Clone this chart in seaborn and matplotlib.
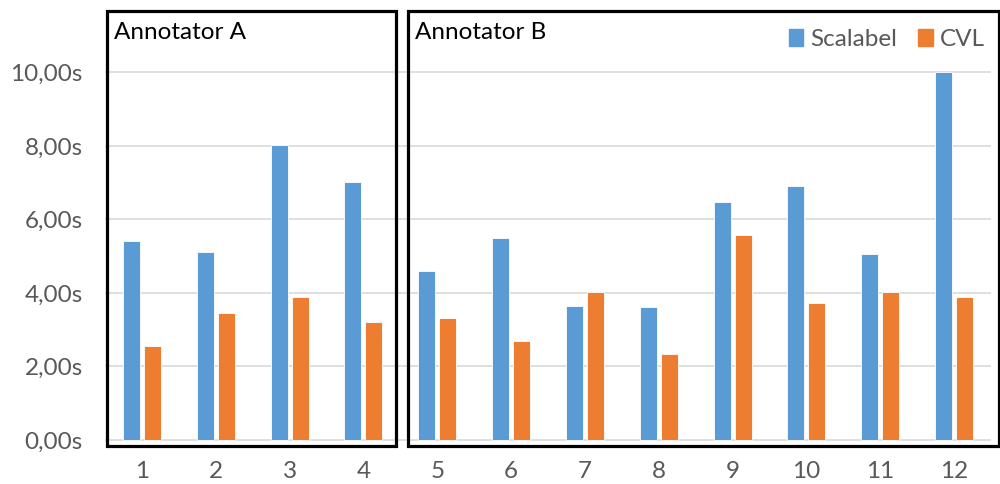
import numpy as np
import pandas as pd
import matplotlib
matplotlib.use("Agg")
import matplotlib.pyplot as plt
import matplotlib.transforms as mtransforms
from matplotlib.patches import Rectangle
import seaborn as sns

# data (seconds per task)
tasks = [str(i) for i in range(1, 13)]
scalabel = [5.40, 5.12, 8.02, 7.02, 4.60, 5.50, 3.65, 3.62, 6.47, 6.92, 5.05, 10.00]
cvl = [2.55, 3.45, 3.90, 3.22, 3.32, 2.70, 4.03, 2.34, 5.57, 3.73, 4.03, 3.90]
tools = ["Scalabel", "CVL"]
colors = ["#5B9BD5", "#ED7D31"]
y_ticks = [0, 2, 4, 6, 8, 10]

df = pd.DataFrame({
    "task": tasks * 2,
    "time": scalabel + cvl,
    "tool": [tools[0]] * len(tasks) + [tools[1]] * len(tasks),
})

sns.set_style("white")
plt.rcParams['font.family'] = ['Lato', 'DejaVu Sans']

fig = plt.figure(figsize=(10, 4.84), dpi=100)
ax = fig.add_axes([0.105, 0.0785, 0.886, 0.8988])

sns.barplot(data=df, x="task", y="time", hue="tool", order=tasks,
            hue_order=tools, palette=colors, saturation=1, width=0.57, gap=0.19,
            edgecolor="white", linewidth=0.6, ax=ax, legend=False)

ax.set_xlim(-0.5, 11.5)
ax.set_ylim(-0.163, 11.67)
ax.set_yticks(y_ticks)
ax.set_yticklabels([f"{v:.2f}".replace(".", ",") + "s" for v in y_ticks])
ax.yaxis.grid(True, color="#d9d9d9", linewidth=1.2)
ax.set_axisbelow(True)
for s in ax.spines.values():
    s.set_visible(False)
ax.tick_params(axis="both", length=0, labelsize=17.5, colors="#595959")
ax.tick_params(axis="y", pad=16)
ax.tick_params(axis="x", pad=11)
ax.set_xlabel("")
ax.set_ylabel("")

# annotator group boxes
trans = mtransforms.blended_transform_factory(ax.transData, ax.transAxes)
for x0, x1, name in [(-0.473, 3.441, "Annotator A"), (3.604, 11.61, "Annotator B")]:
    ax.add_patch(Rectangle((x0, 0), x1 - x0, 1, transform=trans, fill=False,
                           edgecolor="black", linewidth=2.3, clip_on=False, zorder=5))
    ax.text(x0 + 0.1, 0.95, name, transform=trans, fontsize=17.5,
            color="black", va="center", ha="left")

handles = [Rectangle((0, 0), 1, 1, color=c) for c in colors]
ax.legend(handles, tools, loc="center right", bbox_to_anchor=(1.018, 0.935),
          ncol=2, frameon=False, fontsize=17.5, handlelength=0.6,
          handleheight=0.75, handletextpad=0.3, columnspacing=0.85,
          labelcolor="#595959")

plt.savefig("out.png", dpi=100)
